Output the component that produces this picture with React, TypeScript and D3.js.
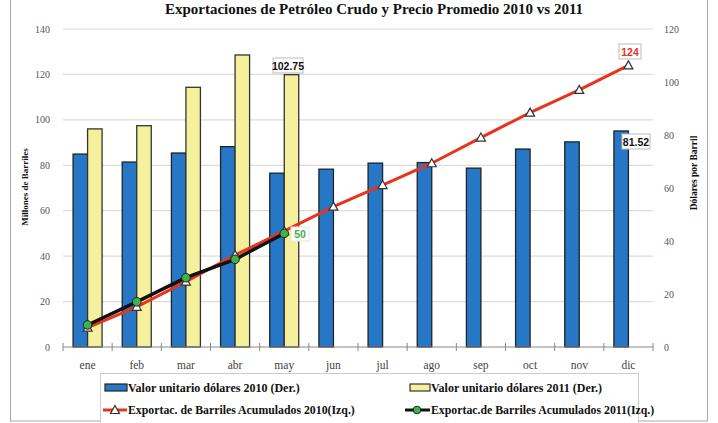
import React from 'react';
import * as d3 from 'd3';

const months = ['ene', 'feb', 'mar', 'abr', 'may', 'jun', 'jul', 'ago', 'sep', 'oct', 'nov', 'dic'];
// dólares por barril (eje derecho)
const precio2010 = [72.8, 69.8, 73.2, 75.6, 65.6, 67.1, 69.4, 69.6, 67.5, 74.7, 77.4, 81.52];
const precio2011 = [82.3, 83.5, 98.0, 110.2, 102.75];
// millones de barriles acumulados (eje izquierdo)
const acum2010 = [8.5, 17.7, 28.8, 40.5, 51.0, 61.8, 71.3, 80.9, 92.2, 103.2, 113.2, 124];
const acum2011 = [9.7, 19.9, 30.5, 38.6, 50];
const leftTicks = [0, 20, 40, 60, 80, 100, 120, 140];
const rightTicks = [0, 20, 40, 60, 80, 100, 120];

const W = 718;
const H = 423;
const serif = '"Liberation Serif", "Times New Roman", serif';
const sans = '"Liberation Sans", Arial, sans-serif';

const BLUE = '#2678c6';
const YELLOW = '#f4f09c';
const RED = '#e8331f';
const GREEN = '#3cb44b';

const ValueBox = ({ x, y, text, color, w }: { x: number; y: number; text: string; color: string; w: number }) => (
    <g>
        <rect x={x - w / 2} y={y - 8} width={w} height={15} fill="#fff" stroke="#bbb" strokeWidth={1} />
        <text x={x} y={y + 3.5} textAnchor="middle" fontFamily={sans} fontWeight="bold" fontSize={10.5} fill={color}>{text}</text>
    </g>
);

export default function App() {
    const x = d3.scaleBand().domain(months).range([63, 653]).padding(0);
    const bw = x.bandwidth();
    const barW = bw * 0.295;
    const yL = d3.scaleLinear().domain([0, 140]).range([347, 29]);
    const yR = d3.scaleLinear().domain([0, 120]).range([347, 29]);
    const cx = (m: string) => (x(m) as number) + bw / 2;

    const line2010 = d3.line<number>().x((_, i) => cx(months[i])).y(d => yL(d));
    const line2011 = d3.line<number>().x((_, i) => cx(months[i])).y(d => yL(d));

    const tri = (px: number, py: number) => `M${px},${py - 4.5}L${px + 4.5},${py + 3.5}L${px - 4.5},${py + 3.5}Z`;

    return (
        <svg width={W} height={H} style={{ position: 'absolute', left: 0, top: 0, background: '#fff' }}>
            <rect x={10.5} y={-1} width={697} height={422} fill="#fff" stroke="#aaa" strokeWidth={1} />

            <text x={374} y={14} textAnchor="middle" fontFamily={serif} fontWeight="bold" fontSize={15} fill="#111">
                Exportaciones de Petróleo Crudo y Precio Promedio 2010 vs 2011
            </text>

            {/* gridlines */}
            {leftTicks.slice(1).map(t => (
                <line key={t} x1={63} x2={653} y1={yL(t)} y2={yL(t)} stroke="#dcdcdc" strokeWidth={1.2} />
            ))}

            {/* left axis labels */}
            {leftTicks.map(t => (
                <text key={t} x={50} y={yL(t) + 3.5} textAnchor="end" fontFamily={serif} fontSize={10} fill="#555">{t}</text>
            ))}
            {/* right axis labels */}
            {rightTicks.map(t => (
                <text key={t} x={664} y={yR(t) + 3.5} fontFamily={serif} fontSize={10} fill="#555">{t}</text>
            ))}

            <text transform="translate(28,187) rotate(-90)" textAnchor="middle" fontFamily={serif} fontWeight="bold" fontSize={9} fill="#111">Millones de Barriles</text>
            <text transform="translate(697,173) rotate(-90)" textAnchor="middle" fontFamily={serif} fontWeight="bold" fontSize={9.5} fill="#111">Dólares por Barril</text>

            {/* bars */}
            {precio2010.map((v, i) => (
                <rect key={'b' + i} x={cx(months[i]) - barW} y={yR(v)} width={barW} height={yR(0) - yR(v)}
                    fill={BLUE} stroke="#222" strokeWidth={1.3} />
            ))}
            {precio2011.map((v, i) => (
                <rect key={'y' + i} x={cx(months[i])} y={yR(v)} width={barW} height={yR(0) - yR(v)}
                    fill={YELLOW} stroke="#333" strokeWidth={1.3} />
            ))}

            {/* x axis */}
            <line x1={63} x2={653} y1={347} y2={347} stroke="#888" strokeWidth={1} />
            {d3.range(months.length + 1).map(i => (
                <line key={i} x1={63 + i * bw} x2={63 + i * bw} y1={343} y2={351} stroke="#888" strokeWidth={1} />
            ))}
            {months.map(m => (
                <text key={m} x={cx(m)} y={369} textAnchor="middle" fontFamily={serif} fontSize={11.5} fill="#444">{m}</text>
            ))}

            {/* lines */}
            <path d={line2010(acum2010) as string} fill="none" stroke={RED} strokeWidth={3} />
            {acum2010.map((v, i) => (
                <path key={'t' + i} d={tri(cx(months[i]), yL(v))} fill="#fff" stroke="#333" strokeWidth={1.2} />
            ))}
            <path d={line2011(acum2011) as string} fill="none" stroke="#111" strokeWidth={3.5} />
            {acum2011.map((v, i) => (
                <circle key={'c' + i} cx={cx(months[i])} cy={yL(v)} r={4.3} fill={GREEN} stroke="#222" strokeWidth={1} />
            ))}

            {/* value labels */}
            <ValueBox x={288} y={66} text="102.75" color="#111" w={30} />
            <ValueBox x={630} y={52} text="124" color={RED} w={22} />
            <ValueBox x={636} y={142} text="81.52" color="#111" w={28} />
            <g>
                <rect x={291} y={227} width={18} height={14} fill="#fff" stroke="#e4e4e4" />
                <text x={300} y={237.5} textAnchor="middle" fontFamily={sans} fontWeight="bold" fontSize={10.5} fill={GREEN}>50</text>
            </g>

            {/* legend */}
            <rect x={100.5} y={373.5} width={538} height={50} fill="#fff" stroke="#ccc" strokeWidth={1} />
            <rect x={105} y={384} width={22} height={7} fill={BLUE} stroke="#222" strokeWidth={1.2} />
            <text x={128} y={392} fontFamily={serif} fontWeight="bold" fontSize={12} fill="#111">Valor unitario dólares 2010 (Der.)</text>
            <rect x={410} y={384} width={20} height={7} fill={YELLOW} stroke="#333" strokeWidth={1.2} />
            <text x={431} y={392} fontFamily={serif} fontWeight="bold" fontSize={12} fill="#111">Valor unitario dólares 2011 (Der.)</text>

            <line x1={103} x2={127} y1={410} y2={410} stroke={RED} strokeWidth={3} />
            <path d={tri(115, 410)} fill="#fff" stroke="#333" strokeWidth={1.2} />
            <text x={128} y={414} fontFamily={serif} fontWeight="bold" fontSize={11.8} fill="#111">Exportac. de Barriles Acumulados 2010(Izq.)</text>
            <line x1={405} x2={430} y1={410} y2={410} stroke="#111" strokeWidth={3} />
            <circle cx={417} cy={410} r={3.8} fill={GREEN} stroke="#222" strokeWidth={1} />
            <text x={431} y={414} fontFamily={serif} fontWeight="bold" fontSize={11.8} fill="#111">Exportac.de Barriles Acumulados 2011(Izq.)</text>
        </svg>
    );
}
